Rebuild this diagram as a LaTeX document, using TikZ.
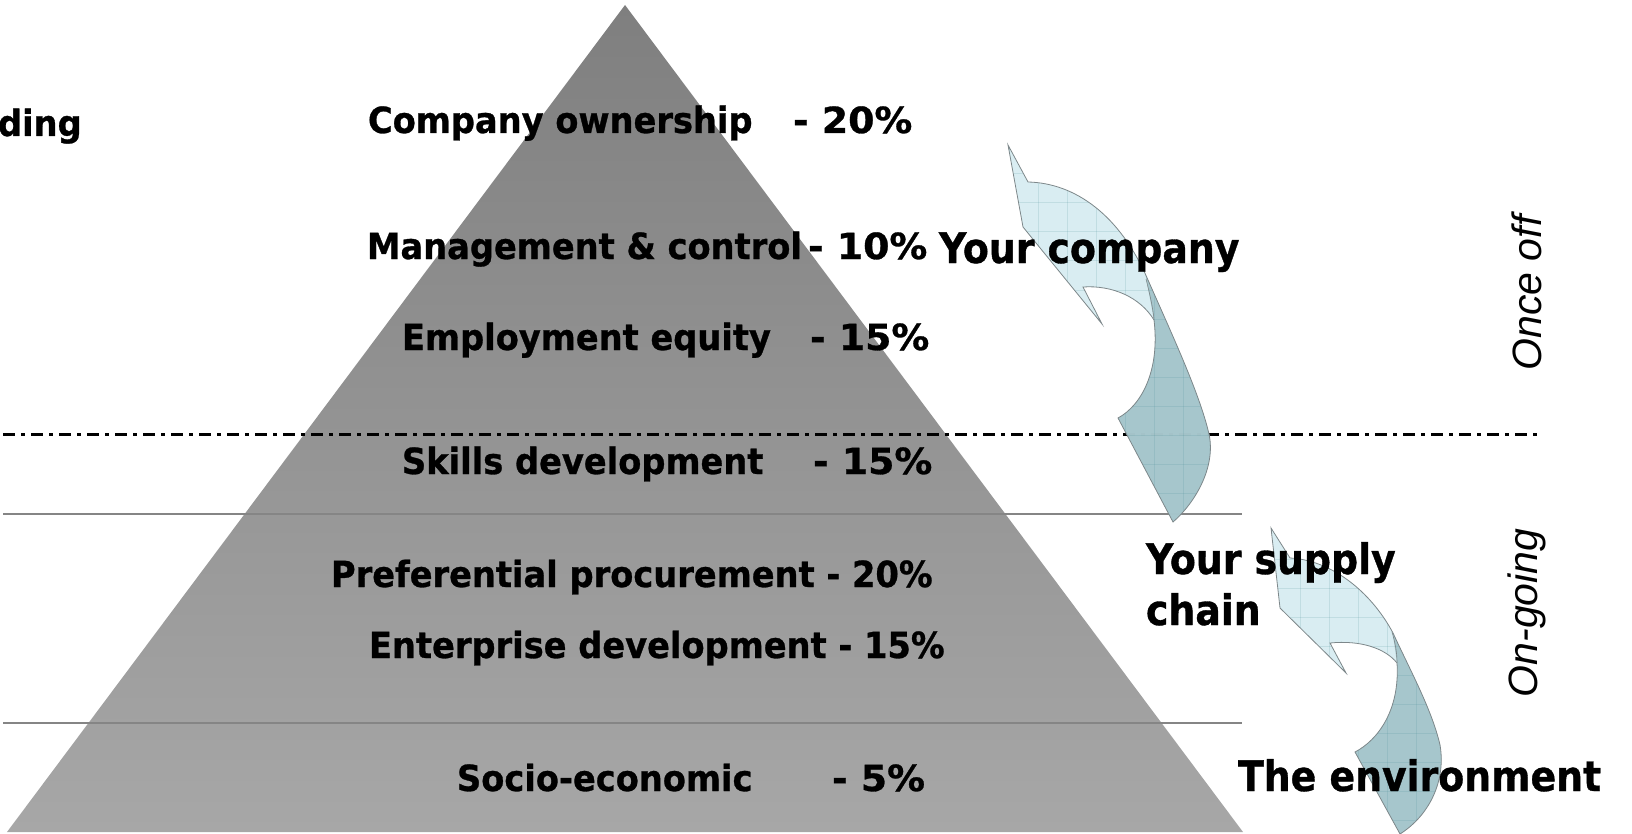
\documentclass[tikz,border=0pt]{standalone}
\usepackage{fontspec}
\newfontfamily\tah{DejaVu Sans}[FakeStretch=0.935,BoldFeatures={FakeBold=0.8}]
\newfontfamily\tahp{DejaVu Sans}[FakeStretch=1.05,BoldFeatures={FakeBold=0.8}]
\newfontfamily\tahb{DejaVu Sans}[FakeStretch=0.9,BoldFeatures={FakeBold=0.8}]
\newfontfamily\ari{Liberation Sans}
\definecolor{pyrtop}{RGB}{127,127,127}
\definecolor{pyrbot}{RGB}{167,167,167}
\definecolor{linegray}{RGB}{133,133,133}
\definecolor{arlight}{RGB}{212,235,240}
\definecolor{ardark}{RGB}{160,193,199}
\definecolor{edgegray}{RGB}{125,135,138}
\definecolor{gridcol}{RGB}{70,140,150}
\begin{document}
\begin{tikzpicture}[x=1pt,y=-1pt,
  lbl/.style={anchor=base west,inner sep=0pt,outer sep=0pt,font=\tah\bfseries\fontsize{36}{40}\selectfont},
  pct/.style={anchor=base west,inner sep=0pt,outer sep=0pt,font=\tahp\bfseries\fontsize{36}{40}\selectfont},
  big/.style={anchor=base west,inner sep=0pt,outer sep=0pt,font=\tahb\bfseries\fontsize{42}{46}\selectfont},
  side/.style={rotate=90,inner sep=0pt,outer sep=0pt,font=\ari\itshape\fontsize{41}{45}\selectfont},
  sepline/.style={draw=linegray,line width=2pt},
  dashline/.style={draw=black,line width=3pt,dash pattern=on 12pt off 6pt on 4pt off 6pt},
  arredge/.style={draw=edgegray,line width=0.8pt},
  gridline/.style={draw=gridcol,draw opacity=0.16,line width=1pt}]

\useasboundingbox (0,0) rectangle (1632,834);

% pyramid
\shade[top color=pyrtop,bottom color=pyrbot] (625,5) -- (1243,832) -- (7,832) -- cycle;

% separator lines
\coordinate (s1a) at (3,514);  \coordinate (s1b) at (1242,514);
\coordinate (s2a) at (3,723);  \coordinate (s2b) at (1242,723);
\coordinate (d1a) at (3,434);  \coordinate (d1b) at (1542,434);
\draw[sepline] (s1a) -- (s1b);
\draw[sepline] (s2a) -- (s2b);
\draw[dashline] (d1a) -- (d1b);

% arrow 1
\path[save path=\arrA] (1008,145) -- (1028,182)
  .. controls (1075,183) and (1120,215) .. (1148,280)
  .. controls (1170,330) and (1198,390) .. (1208,430)
  .. controls (1218,465) and (1195,503) .. (1173,522)
  -- (1118,418)
  .. controls (1142,405) and (1160,370) .. (1154,320)
  .. controls (1140,297) and (1112,285) .. (1083,287)
  -- (1102,324) -- (1023,227) -- cycle;
\fill[arlight,fill opacity=0.88,use path=\arrA];
\begin{scope}
  \clip[use path=\arrA];
  \fill[ardark,fill opacity=0.88] (1138,235) -- (1154,320) -- (1050,450) -- (1050,560) -- (1300,560) -- (1300,235) -- cycle;
  \foreach \gx in {980,1009,...,1245} \draw[gridline] (\gx,120) -- (\gx,560);
  \foreach \gy in {145,174,...,560} \draw[gridline] (960,\gy) -- (1260,\gy);
  \draw[edgegray,line width=0.6pt] (1146,279) .. controls (1150,295) and (1153,308) .. (1154,320);
\end{scope}
\draw[arredge,use path=\arrA];

% arrow 2
\path[save path=\arrB] (1271,528) -- (1290,558)
  .. controls (1330,560) and (1370,590) .. (1393,633)
  .. controls (1410,670) and (1432,710) .. (1440,745)
  .. controls (1446,780) and (1430,815) .. (1400,834)
  -- (1355,752)
  .. controls (1378,740) and (1400,710) .. (1397,663)
  .. controls (1385,648) and (1360,640) .. (1330,643)
  -- (1346,673) -- (1280,608) -- cycle;
\fill[arlight,fill opacity=0.88,use path=\arrB];
\begin{scope}
  \clip[use path=\arrB];
  \fill[ardark,fill opacity=0.88] (1388,600) -- (1397,663) -- (1300,760) -- (1300,900) -- (1500,900) -- (1500,600) -- cycle;
  \foreach \gx in {1242,1271,...,1470} \draw[gridline] (\gx,500) -- (\gx,850);
  \foreach \gy in {501,530,...,850} \draw[gridline] (1240,\gy) -- (1480,\gy);
  \draw[edgegray,line width=0.6pt] (1392,632) .. controls (1395,642) and (1397,652) .. (1397,663);
\end{scope}
\draw[arredge,use path=\arrB];

% pyramid labels
\node[lbl] (ding) at (-2,136) {ding};
\node[lbl] (own) at (368,133) {Company ownership};
\node[pct] (ownp) at (793,133) {- 20\%};
\node[lbl] (mgmt) at (367,259) {Management \& control};
\node[pct] (mgmtp) at (808,259) {- 10\%};
\node[lbl] (emp) at (402,350) {Employment equity};
\node[pct] (empp) at (810,350) {- 15\%};
\node[lbl] (skill) at (402,474) {Skills development};
\node[pct] (skillp) at (813,474) {- 15\%};
\node[lbl] (pref) at (331,587) {Preferential procurement - 20\%};
\node[lbl] (ent) at (369,658) {Enterprise development - 15\%};
\node[lbl] (socio) at (457,791) {Socio-economic};
\node[pct] (sociop) at (832,791) {- 5\%};

% right labels
\node[big] (yc) at (939,263) {Your company};
\node[big] (ys) at (1146,574) {Your supply};
\node[big] (ch) at (1146,625) {chain};
\node[big] (env) at (1238,791) {The environment};

\node[side] (once) at (1527,293) {Once off};
\node[side] (ongo) at (1527,613) {On-going};
\end{tikzpicture}
\end{document}
